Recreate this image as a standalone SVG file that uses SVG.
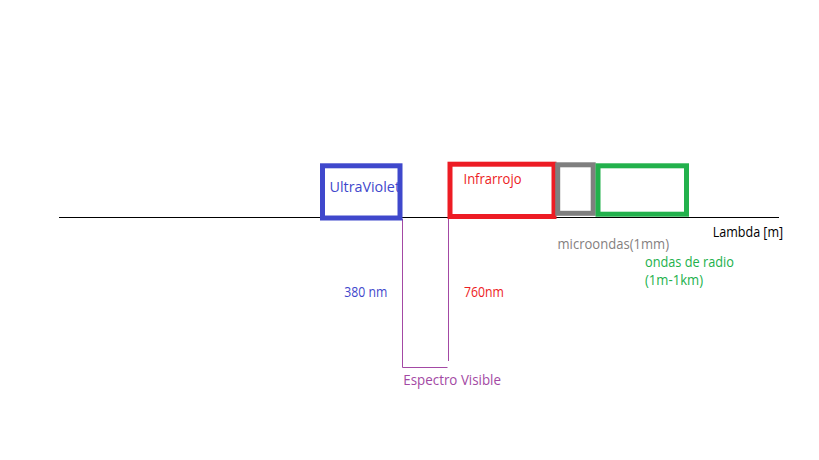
<svg xmlns="http://www.w3.org/2000/svg" width="819" height="460" viewBox="0 0 819 460">
<style>
text{font-family:"Open Sans","Noto Sans","DejaVu Sans",sans-serif;font-size:13.8px}
.box{fill:none;stroke-width:5}
.vis{fill:none;stroke:#a349a4;stroke-width:1}
</style>
<rect width="819" height="460" fill="#fff"/>
<g id="connectors">
<line x1="59" y1="217.5" x2="779" y2="217.5" stroke="#000" stroke-width="1"/>
<polyline class="vis" points="402.5,219 402.5,367.5 447.5,367.5"/>
<line class="vis" x1="448.5" y1="217" x2="448.5" y2="361"/>
</g>
<g id="uv">
<rect class="box" x="322.5" y="165.8" width="77.5" height="52.2" stroke="#3f48cc"/>
<text x="329.5" y="192" fill="#3f48cc" textLength="70.5" lengthAdjust="spacingAndGlyphs">UltraViolet</text>
</g>
<g id="ir">
<rect class="box" x="450" y="164.2" width="104" height="52.3" stroke="#ed1c24"/>
<text x="463.5" y="184" fill="#ed1c24" textLength="58" lengthAdjust="spacingAndGlyphs">Infrarrojo</text>
</g>
<g id="micro">
<rect class="box" x="557.7" y="164.8" width="35.5" height="48.5" stroke="#7f7f7f"/>
<text x="557.5" y="249" fill="#857f7f" textLength="111.5" lengthAdjust="spacingAndGlyphs">microondas(1mm)</text>
</g>
<g id="radio">
<rect class="box" x="598" y="165.8" width="88.5" height="48.4" stroke="#22b14c"/>
<text x="645" y="266.7" fill="#22b14c" textLength="89" lengthAdjust="spacingAndGlyphs">ondas de radio</text>
<text x="645" y="284.5" fill="#22b14c" textLength="58" lengthAdjust="spacingAndGlyphs">(1m-1km)</text>
</g>
<g id="lambda">
<text x="712.7" y="237.3" fill="#000" textLength="70.5" lengthAdjust="spacingAndGlyphs">Lambda [m]</text>
</g>
<g id="labels">
<text x="344.3" y="296.7" fill="#3f48cc" textLength="43" lengthAdjust="spacingAndGlyphs">380 nm</text>
<text x="464" y="296.7" fill="#ed1c24" textLength="40" lengthAdjust="spacingAndGlyphs">760nm</text>
<text x="403.3" y="385" fill="#a349a4" textLength="97.7" lengthAdjust="spacingAndGlyphs">Espectro Visible</text>
</g>
</svg>
